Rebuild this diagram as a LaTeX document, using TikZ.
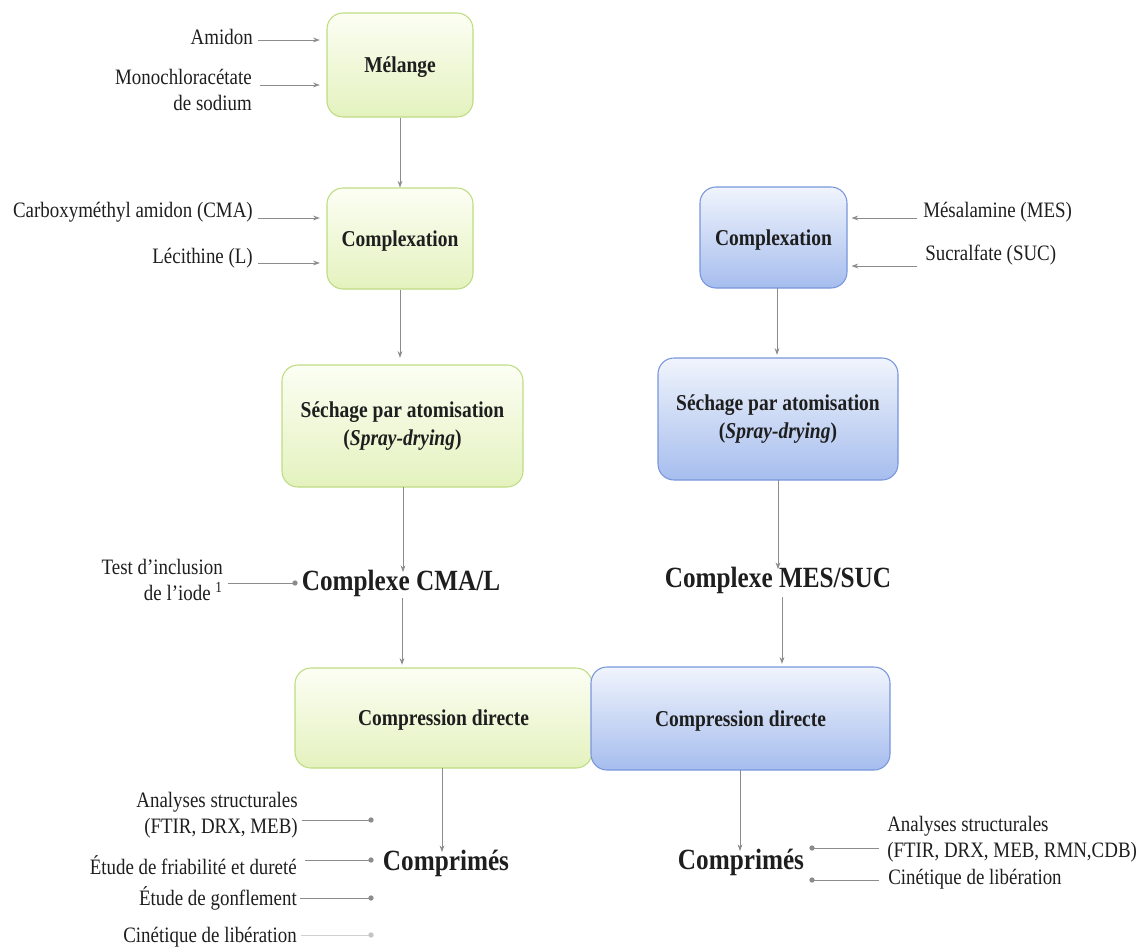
\documentclass[tikz,border=0pt]{standalone}
\usepackage{fontspec}
\setmainfont{Liberation Serif}[FakeStretch=0.86]
\usetikzlibrary{arrows.meta}
\definecolor{gborder}{RGB}{190,220,130}
\definecolor{gtop}{RGB}{252,254,244}
\definecolor{gbot}{RGB}{228,242,190}
\definecolor{bborder}{RGB}{120,150,220}
\definecolor{btop}{RGB}{240,244,252}
\definecolor{bbot}{RGB}{166,189,238}
\definecolor{lgray}{RGB}{140,140,140}
\definecolor{ink}{RGB}{30,30,30}
\tikzset{
  boxbase/.style={rounded corners=12, line width=0.8pt, align=center, inner sep=0pt,
    text=ink, font=\fontsize{17}{21}\selectfont\bfseries},
  gbox/.style={boxbase, draw=gborder, top color=gtop, bottom color=gbot},
  bbox/.style={boxbase, draw=bborder, top color=btop, bottom color=bbot},
  onel/.style={text depth=0pt},
  txt/.style={inner sep=0pt, text=ink, font=\fontsize{16.5}{19.5}\selectfont},
  big/.style={inner sep=0pt, text=ink, font=\fontsize{22}{26}\selectfont\bfseries},
  arr/.style={draw=lgray, line width=0.6pt, -{Stealth[length=5pt,width=3.6pt]}},
  lnk/.style={draw=lgray, line width=0.7pt},
  dotc/.style={circle, fill=lgray, inner sep=0pt, minimum size=4pt}
}
\begin{document}
\begin{tikzpicture}[x=0.75pt,y=-0.75pt]
\useasboundingbox (0,0) rectangle (1146,951);
% ---- left column boxes
\node[gbox, onel, minimum width=109.5pt, minimum height=78pt] (mel) at (400,65) {Mélange};
\node[gbox, onel, minimum width=109.5pt, minimum height=75.75pt] (cx1) at (400,238.5) {Complexation};
\node[gbox, minimum width=180.75pt, minimum height=91.5pt] (se1) at (402.5,426) {Séchage par atomisation\\(\textit{Spray-drying})};
\node[gbox, onel, minimum width=222.75pt, minimum height=75pt] (co1) at (443.5,718) {Compression directe};
% ---- right column boxes
\node[bbox, onel, minimum width=110.25pt, minimum height=75.75pt] (cx2) at (773.5,237.5) {Complexation};
\node[bbox, minimum width=180pt, minimum height=91.5pt] (se2) at (778,419) {Séchage par atomisation\\(\textit{Spray-drying})};
\node[bbox, onel, minimum width=224.25pt, minimum height=77.25pt] (co2) at (740.5,718.5) {Compression directe};
% ---- big labels
\node[big] (cpl1) at (401,583) {Complexe CMA/L};
\node[big] (cpl2) at (778,580) {Complexe MES/SUC};
\node[big] (cmp1) at (446,863) {Comprimés};
\node[big] (cmp2) at (741,862) {Comprimés};
% ---- left inputs
\node[txt, anchor=east] (ami) at (253,37) {Amidon};
\node[txt, anchor=east, align=right] (mono) at (252,90) {Monochloracétate\\de sodium};
\coordinate (amia) at (258,40);
\coordinate (monoa) at (260,85);
\draw[arr, shorten >=5pt] (amia) -- (amia -| mel.west);
\draw[arr, shorten >=5pt] (monoa) -- (monoa -| mel.west);
\node[txt, anchor=east] (cma) at (253,212) {Carboxyméthyl amidon (CMA)};
\node[txt, anchor=east] (lec) at (253,258) {Lécithine (L)};
\coordinate (cmaa) at (258,218);
\coordinate (leca) at (258,263);
\draw[arr, shorten >=5pt] (cmaa) -- (cmaa -| cx1.west);
\draw[arr, shorten >=5pt] (leca) -- (leca -| cx1.west);
% ---- right inputs
\node[txt, anchor=west] (mes) at (923,212) {Mésalamine (MES)};
\node[txt, anchor=west] (suc) at (925,255) {Sucralfate (SUC)};
\coordinate (mesa) at (917,218);
\coordinate (suca) at (917,266);
\draw[arr, shorten >=3pt] (mesa) -- (mesa -| cx2.east);
\draw[arr, shorten >=3pt] (suca) -- (suca -| cx2.east);
% ---- vertical flow left
\draw[arr] (mel.south) -- (cx1.north);
\draw[arr, shorten >=5pt] (cx1.south) -- (cx1.south |- se1.north);
\coordinate (s1b) at (403,487);
\draw[arr] (s1b) -- ([yshift=-2pt]s1b |- cpl1.north);
\coordinate (p1b) at (402,598);
\draw[arr, shorten >=2pt] (p1b) -- (p1b |- co1.north);
\coordinate (c1b) at (442,768);
\draw[arr] (c1b) -- ([yshift=-2pt]c1b |- cmp1.north);
% ---- vertical flow right
\coordinate (cx2b) at (777,288);
\draw[arr, shorten >=2pt] (cx2b) -- (cx2b |- se2.north);
\coordinate (s2b) at (778,480);
\draw[arr] (s2b) -- ([yshift=-2pt]s2b |- cpl2.north);
\coordinate (c2t) at (782,597);
\draw[arr, shorten >=2pt] (c2t) -- (c2t |- co2.north);
\coordinate (c2b) at (740,770);
\draw[arr] (c2b) -- ([yshift=-2pt]c2b |- cmp2.north);
% ---- iodine test
\node[txt, anchor=east, align=right] (iod) at (223,580) {Test d’inclusion\\de l’iode \textsuperscript{1}};
\coordinate (iodd) at (295,583);
\coordinate (iods) at (228,583);
\draw[lnk] (iods) -- (iodd);
\node[dotc] at (iodd) {};
% ---- left analyses
\node[txt, anchor=east, align=right] (an1) at (298,815) {Analyses structurales\\(FTIR, DRX, MEB)};
\node[txt, anchor=east] (fri) at (297,865) {Étude de friabilité et dureté};
\node[txt, anchor=east] (gon) at (297,898) {Étude de gonflement};
\node[txt, anchor=east] (cin1) at (297,937) {Cinétique de libération};
\coordinate (d1) at (371,820);
\coordinate (d2) at (371,860);
\coordinate (d3) at (371,898);
\coordinate (d4) at (371,935);
\coordinate (a1) at (302,820);
\coordinate (a2) at (305,860);
\coordinate (a3) at (300,898);
\coordinate (a4) at (301,935);
\draw[lnk] (a1) -- (d1);
\draw[lnk] (a2) -- (d2);
\draw[lnk] (a3) -- (d3);
\draw[lnk, draw=lgray!40] (a4) -- (d4);
\foreach \d in {d1,d2,d3} \node[dotc] at (\d) {};
\node[dotc, fill=lgray!50] at (d4) {};
% ---- right analyses
\node[txt, anchor=west, align=left] (an2) at (887,839) {Analyses structurales\\(FTIR, DRX, MEB, RMN,CDB)};
\node[txt, anchor=west] (cin2) at (888,879) {Cinétique de libération};
\coordinate (e1) at (812,848);
\coordinate (e2) at (812,880);
\coordinate (f1) at (879,848);
\coordinate (f2) at (879,880);
\draw[lnk] (e1) -- (f1);
\draw[lnk] (e2) -- (f2);
\node[dotc] at (e1) {};
\node[dotc] at (e2) {};
\end{tikzpicture}
\end{document}
